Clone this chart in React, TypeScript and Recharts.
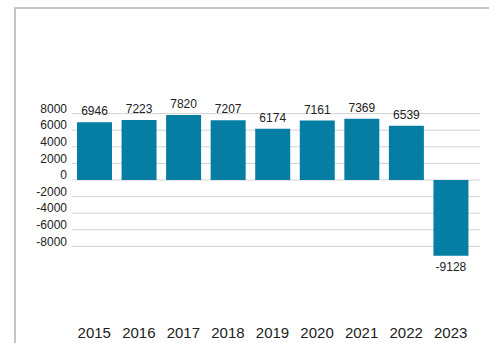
import React from "react";
import { BarChart, Bar, XAxis, YAxis, CartesianGrid, LabelList } from "recharts";

const years = ["2015", "2016", "2017", "2018", "2019", "2020", "2021", "2022", "2023"];
const values = [6946, 7223, 7820, 7207, 6174, 7161, 7369, 6539, -9128];
const yTicks = [-8000, -6000, -4000, -2000, 0, 2000, 4000, 6000, 8000];

const data = years.map((y, i) => ({ year: y, value: values[i] }));

const FONT = "'Liberation Sans', Arial, sans-serif";

const YTick = (props: any) => {
  const { x, y, payload } = props;
  return (
    <text x={x} y={y - 5} dy="0.35em" textAnchor="end" fontSize={12} fill="#222" fontFamily={FONT}>
      {payload.value}
    </text>
  );
};

export default function App() {
  return (
    <div style={{ position: "absolute", left: 0, top: 0, width: 489, height: 343, background: "#fff" }}>
      <div
        style={{
          position: "absolute",
          left: 14,
          top: 7,
          width: 475,
          height: 336,
          borderLeft: "2px solid #c4c4c4",
          borderTop: "2px solid #c4c4c4",
          boxSizing: "border-box",
        }}
      />
      <div style={{ position: "absolute", left: 0, top: 0 }}>
        <BarChart
          width={489}
          height={343}
          data={data}
          margin={{ top: 97, right: 9, bottom: 0, left: 0 }}
          barSize={35}
        >
          <CartesianGrid horizontal vertical={false} stroke="#d2d2d2" horizontalValues={yTicks} />
          <XAxis
            dataKey="year"
            axisLine={false}
            tickLine={false}
            tickSize={0}
            tickMargin={64}
            height={80}
            padding={{ left: 0, right: 7 }}
            tick={{ fontSize: 15, fill: "#222", fontFamily: FONT }}
            interval={0}
          />
          <YAxis
            domain={[-10000, 10000]}
            ticks={yTicks}
            axisLine={false}
            tickLine={false}
            tickSize={0}
            tickMargin={5}
            width={72}
            tick={<YTick />}
            interval={0}
          />
          <Bar dataKey="value" fill="#067ea4" isAnimationActive={false}>
            <LabelList
              dataKey="value"
              position="top"
              offset={7}
              style={{ fontSize: 12, fill: "#222", fontFamily: FONT }}
            />
          </Bar>
        </BarChart>
      </div>
    </div>
  );
}
